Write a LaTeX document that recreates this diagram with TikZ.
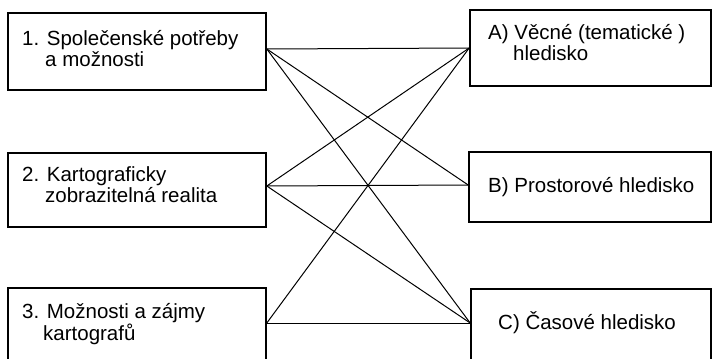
\documentclass[tikz,border=0pt]{standalone}
\usepackage{fontspec}
\setmainfont{Liberation Sans}
\begin{document}
\begin{tikzpicture}[x=1pt,y=-1pt,
  box/.style={draw=black,line width=1.6pt,rectangle,inner sep=0pt},
  label/.style={anchor=base west,inner sep=0pt,align=left,
    font=\fontsize{20.5}{21.5}\selectfont},
  link/.style={draw=black,line width=1pt}]
\useasboundingbox (0,0) rectangle (713,359);
\clip (0,0) rectangle (713,359);
\fill[white] (0,0) rectangle (713,359);

% left column: sources
\node[box,minimum width=258pt,minimum height=77pt] (b1) at (137,51.5) {};
\node[box,minimum width=258pt,minimum height=74pt] (b2) at (137,190) {};
\node[box,minimum width=258pt,minimum height=76pt] (b3) at (137,326) {};

% right column: viewpoints
\node[box,minimum width=241pt,minimum height=76pt] (bA) at (590.5,48) {};
\node[box,minimum width=242pt,minimum height=70pt] (bB) at (590,187) {};
\node[box,minimum width=240pt,minimum height=76pt] (bC) at (591,327) {};

% box texts (base anchor of a two-line label sits on its last line)
\node[label] (t1) at (22,66.5) {1. Společenské potřeby\\\hspace*{23pt}a možnosti};
\node[label] (t2) at (22,202.5) {2. Kartograficky\\\hspace*{23pt}zobrazitelná realita};
\node[label] (t3) at (22,340) {3. Možnosti a zájmy\\\hspace*{21pt}kartografů};
\node[label] (tA) at (488,60.5) {A) Věcné (tematické )\\\hspace*{25pt}hledisko};
\node[label] (tB) at (488,192) {B) Prostorové hledisko};
\node[label] (tC) at (498,329) {C) Časové hledisko};

% connectors between the two columns
\coordinate (p1) at ([yshift=2.5pt]b1.east);
\coordinate (p2) at ([yshift=4pt]b2.east);
\coordinate (p3) at ([yshift=3pt]b3.east);
\coordinate (pA) at (bA.west);
\coordinate (pB) at ([yshift=2pt]bB.west);
\coordinate (pC) at ([yshift=4pt]bC.west);
\draw[link] (p1) -- (pA);
\draw[link] (p1) -- (pB);
\draw[link] (p1) -- (pC);
\draw[link] (p2) -- (pA);
\draw[link] (p2) -- (pB);
\draw[link] (p2) -- (pC);
\draw[link] (p3) -- (pA);
\draw[link] (p3) -- (pC);
\end{tikzpicture}
\end{document}
